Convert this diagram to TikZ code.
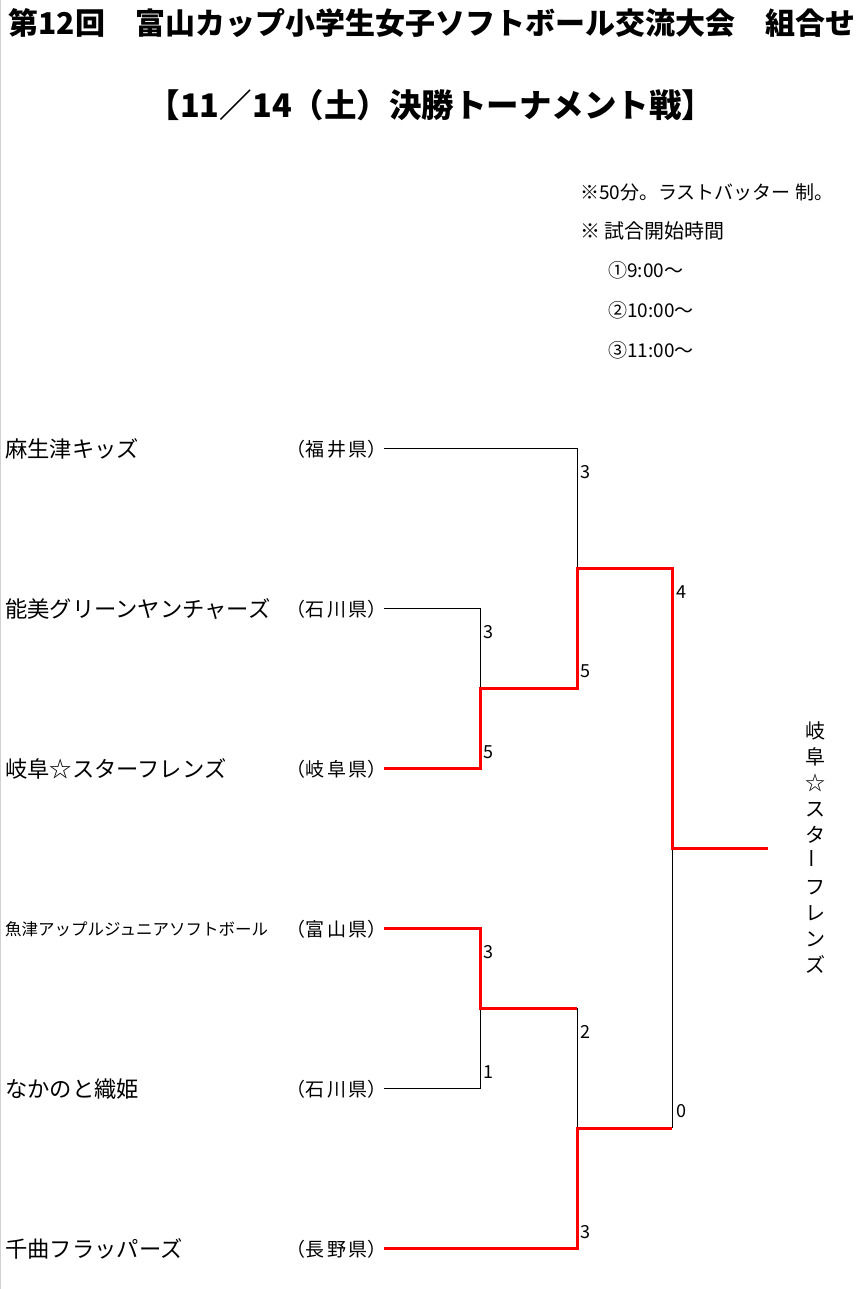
\documentclass[tikz,border=0pt]{standalone}
\usepackage{fontspec}
\setmainfont{Noto Sans CJK JP}
\newcommand{\prefsep}{\kern2.5pt}
\begin{document}
\begin{tikzpicture}[x=1pt,y=-1pt,
  thin line/.style={black,line width=1pt},
  win line/.style={red,line width=3pt,line join=miter},
  team/.style={anchor=west,inner sep=0pt,font=\fontsize{22.3}{22.3}\selectfont},
  pref/.style={anchor=east,inner sep=0pt,font=\fontsize{19}{19}\selectfont},
  score/.style={anchor=west,inner sep=0pt,font=\fontsize{18}{18}\selectfont},
  note/.style={anchor=west,inner sep=0pt,font=\fontsize{19}{19}\selectfont}]
\useasboundingbox (0,0) rectangle (865,1289);
\fill[white] (0,0) rectangle (865,1289);
\draw[black!18,line width=1pt] (0.5,0) -- (0.5,1289);

% titles
\node[font=\fontsize{30}{30}\selectfont\bfseries,inner sep=0pt] (title) at (432,23) {第12回　富山カップ小学生女子ソフトボール交流大会　組合せ};
\node[font=\fontsize{32.5}{32.5}\selectfont\bfseries,inner sep=0pt] (subtitle) at (431,105) {【11／14（土）決勝トーナメント戦】};

% notes
\node[note] (n1) at (580,192) {※50分。ラストバッター 制。};
\node[note,font=\fontsize{20}{20}\selectfont] (n2) at (580,231) {※ 試合開始時間};
\node[note] (n3) at (608,270) {①9:00～};
\node[note] (n4) at (608,310) {②10:00～};
\node[note] (n5) at (608,350) {③11:00～};

% teams
\node[team] (t1) at (5,449) {麻生津キッズ};
\node[team] (t2) at (5,609) {能美グリーンヤンチャーズ};
\node[team] (t3) at (5,769) {岐阜☆スターフレンズ};
\node[team,font=\fontsize{16.5}{16.5}\selectfont] (t4) at (5,929) {魚津アップルジュニアソフトボール};
\node[team] (t5) at (5,1089) {なかのと織姫};
\node[team] (t6) at (5,1249) {千曲フラッパーズ};

\node[pref] (p1) at (387,449) {（福\prefsep 井\prefsep 県）};
\node[pref] (p2) at (387,609) {（石\prefsep 川\prefsep 県）};
\node[pref] (p3) at (387,769) {（岐\prefsep 阜\prefsep 県）};
\node[pref] (p4) at (387,929) {（富\prefsep 山\prefsep 県）};
\node[pref] (p5) at (387,1089) {（石\prefsep 川\prefsep 県）};
\node[pref] (p6) at (387,1249) {（長\prefsep 野\prefsep 県）};

% bracket points
\coordinate (l1) at (384,448);
\coordinate (l2) at (384,608);
\coordinate (l3) at (384,768);
\coordinate (l4) at (384,928);
\coordinate (l5) at (384,1088);
\coordinate (l6) at (384,1248);
\coordinate (a1) at (577,448);
\coordinate (s1) at (577,568);
\coordinate (a2) at (480,608);
\coordinate (a3) at (480,768);
\coordinate (ja) at (480,688);
\coordinate (sa) at (577,688);
\coordinate (f1) at (672,568);
\coordinate (fw) at (672,848);
\coordinate (f2) at (672,1128);
\coordinate (w) at (768,848);
\coordinate (b4) at (480,928);
\coordinate (b5) at (480,1088);
\coordinate (jb) at (480,1008);
\coordinate (sb) at (577,1008);
\coordinate (s2) at (577,1128);
\coordinate (b6) at (577,1248);

% losing paths
\draw[thin line] (l1) -- (a1) -- (s1);
\draw[thin line] (l2) -- (a2) -- (ja);
\draw[thin line] (l5) -- (b5) -- (jb);
\draw[thin line] (sb) -- (s2);
\draw[thin line] (fw) -- (f2);

% winning paths
\draw[win line] (l3) -- (a3) -- (ja) -- (sa) -- (s1) -- (f1) -- (fw) -- (w);
\draw[win line] (l4) -- (b4) -- (jb) -- (sb);
\draw[win line] (l6) -- (b6) -- (s2) -- (f2);

% scores
\node[score] (c1) at (580,472) {3};
\node[score] (c2) at (483,632) {3};
\node[score] (c3) at (483,752) {5};
\node[score] (c4) at (580,671) {5};
\node[score] (c5) at (676,592) {4};
\node[score] (c6) at (483,952) {3};
\node[score] (c7) at (483,1072) {1};
\node[score] (c8) at (580,1032) {2};
\node[score] (c9) at (676,1111) {0};
\node[score] (c10) at (580,1232) {3};

% winner
\node[font=\fontsize{20}{26}\selectfont,align=center,inner sep=0pt] (winner) at (815,848) {岐\\阜\\☆\\ス\\タ\\\rotatebox{90}{ー}\\フ\\レ\\ン\\ズ};
\end{tikzpicture}
\end{document}
